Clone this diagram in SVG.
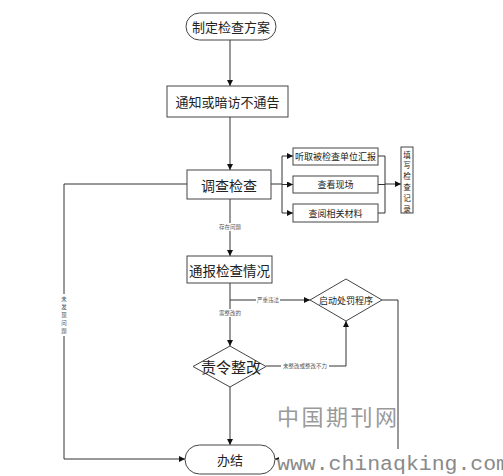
<svg xmlns="http://www.w3.org/2000/svg" width="503" height="476" viewBox="0 0 503 476">
<defs>
<style>
.n{fill:#fff;stroke:#444;stroke-width:1}
.t{font-family:"Noto Sans CJK SC","Noto Sans",sans-serif;fill:#222;text-anchor:middle;dominant-baseline:central}
.c{fill:none;stroke:#333;stroke-width:1}
.a{marker-end:url(#ah)}
.lb{font-family:"Noto Sans CJK SC",sans-serif;font-size:5.5px;fill:#555;text-anchor:middle;dominant-baseline:central}
</style>
<marker id="ah" viewBox="0 0 10 10" refX="10" refY="5" markerWidth="6" markerHeight="6" markerUnits="userSpaceOnUse" orient="auto">
<path d="M0,0 L10,5 L0,10 z" fill="#111"/>
</marker>
</defs>
<rect width="503" height="476" fill="#fff"/>

<g id="connectors">
<path class="c a" d="M230,40 V86"/>
<path class="c a" d="M230,117 V170"/>
<path class="c" d="M271,184 H282 M282,156 V213"/>
<path class="c a" d="M282,156 H293"/>
<path class="c a" d="M282,184.5 H293"/>
<path class="c a" d="M282,213 H293"/>
<path class="c" d="M378,156 H385 M378,184.5 H385 M378,213 H385 M385,156 V213"/>
<path class="c a" d="M385,184 H401"/>
<path class="c a" d="M230,199 V256"/>
<path class="c a" d="M230,283 V346"/>
<path class="c a" d="M230,300 H310"/>
<path class="c a" d="M266,366 H346 V321"/>
<path class="c a" d="M230,387 V445"/>
<path class="c a" d="M187,184 H64 V459 H185"/>
<path class="c a" d="M382,300 H398 V459 H275"/>
<g>
<rect x="216" y="223" width="28" height="8" fill="#fff"/>
<text class="lb" x="230" y="227">存在问题</text>
<rect x="256" y="296.5" width="24" height="7" fill="#fff"/>
<text class="lb" x="268" y="300">严重违法</text>
<rect x="218" y="309" width="24" height="8" fill="#fff"/>
<text class="lb" x="230" y="313">需整改的</text>
<rect x="281" y="362.5" width="48" height="7" fill="#fff"/>
<text class="lb" x="305" y="366">未整改或整改不力</text>
<rect x="60" y="294" width="8" height="42" fill="#fff"/>
<text class="lb" x="64" y="299">未</text>
<text class="lb" x="64" y="307">发</text>
<text class="lb" x="64" y="315">现</text>
<text class="lb" x="64" y="323">问</text>
<text class="lb" x="64" y="331">题</text>
</g>
</g>

<g id="n-start">
<rect class="n" x="186" y="13" width="90" height="27" rx="13.5"/>
<text class="t" x="231" y="26.5" font-size="13">制定检查方案</text>
</g>
<g id="n-notify">
<rect class="n" x="167" y="86" width="121" height="31"/>
<text class="t" x="227.5" y="101.5" font-size="13">通知或暗访不通告</text>
</g>
<g id="n-inspect">
<rect class="n" x="187" y="170" width="84" height="29"/>
<text class="t" x="229" y="184.5" font-size="14">调查检查</text>
</g>
<g id="n-listen">
<rect class="n" x="293" y="148" width="85" height="17"/>
<text class="t" x="335.5" y="156.5" font-size="9">听取被检查单位汇报</text>
</g>
<g id="n-site">
<rect class="n" x="293" y="176" width="85" height="17"/>
<text class="t" x="335.5" y="184.5" font-size="9">查看现场</text>
</g>
<g id="n-docs">
<rect class="n" x="293" y="204" width="85" height="18"/>
<text class="t" x="335.5" y="213" font-size="9">查阅相关材料</text>
</g>
<g id="n-record">
<rect class="n" x="401" y="147" width="12" height="66"/>
<text class="t" x="407" y="154" font-size="7.5">填</text>
<text class="t" x="407" y="164.8" font-size="7.5">写</text>
<text class="t" x="407" y="175.6" font-size="7.5">检</text>
<text class="t" x="407" y="186.4" font-size="7.5">查</text>
<text class="t" x="407" y="197.2" font-size="7.5">记</text>
<text class="t" x="407" y="208" font-size="7.5">录</text>
</g>
<g id="n-report">
<rect class="n" x="187" y="256" width="85" height="27"/>
<text class="t" x="229.5" y="269.5" font-size="13.5">通报检查情况</text>
</g>
<g id="n-punish">
<polygon class="n" points="346,279 382,300 346,321 310,300"/>
<text class="t" x="346" y="300" font-size="9">启动处罚程序</text>
</g>
<g id="n-rectify">
<polygon class="n" points="230,346 266,366.5 230,387 193,366.5"/>
<text class="t" x="231" y="366.5" font-size="15">责令整改</text>
</g>
<g id="n-end">
<rect class="n" x="185" y="445" width="90" height="29" rx="14.5"/>
<text class="t" x="230" y="459.5" font-size="13">办结</text>
</g>

<g id="watermark">
<text x="277" y="425" font-family="Noto Sans CJK SC,sans-serif" font-size="22" fill="#9a9a9a" textLength="120" lengthAdjust="spacing">中国期刊网</text>
<rect x="279" y="449" width="224" height="22" fill="#fff"/>
<text x="277" y="470" font-family="Liberation Mono,monospace" font-size="20" fill="#8a8a8a" textLength="232" lengthAdjust="spacingAndGlyphs">www.chinaqking.com</text>
</g>
</svg>
